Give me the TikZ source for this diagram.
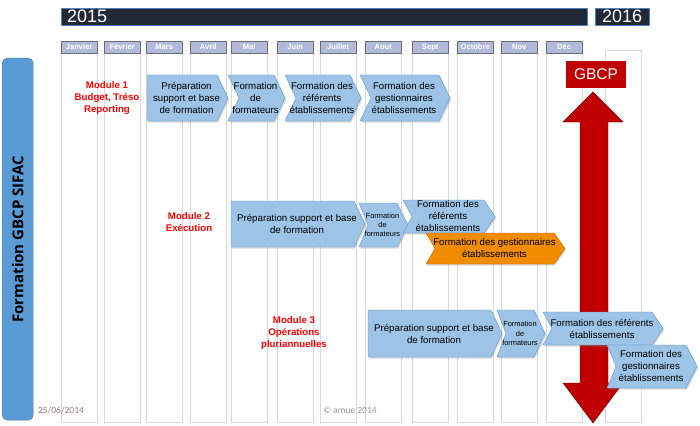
\documentclass[tikz,border=0pt]{standalone}
\usepackage{fontspec}
\setmainfont{Liberation Sans}
\newfontfamily\titlefont{Open Sans}
\newfontfamily\notefont{Carlito}
\usetikzlibrary{shadows}
\definecolor{yearbg}{RGB}{33,41,54}
\definecolor{yearline}{RGB}{79,129,189}
\definecolor{monthbg}{RGB}{178,186,218}
\definecolor{monthline}{RGB}{110,110,120}
\definecolor{colline}{RGB}{217,217,217}
\definecolor{stagebg}{RGB}{157,195,230}
\definecolor{stageline}{RGB}{91,155,213}
\definecolor{orangebg}{RGB}{239,140,0}
\definecolor{orangeline}{RGB}{200,110,0}
\definecolor{titlebg}{RGB}{91,155,213}
\definecolor{titleline}{RGB}{65,120,180}
\definecolor{gbcpred}{RGB}{192,0,0}
\definecolor{datecol}{RGB}{140,125,125}
\definecolor{copycol}{RGB}{150,150,150}
\tikzset{yearbar/.style={rectangle,fill=yearbg,draw=yearline,thin,text=white,
minimum height=17pt,inner ysep=0pt,font=\fontsize{18}{18}\selectfont},
monthlbl/.style={rectangle,fill=monthbg,draw=monthline,thin,text=white,
minimum width=36pt,minimum height=12pt,inner sep=0pt,font=\fontsize{7.6}{8}\selectfont\bfseries},
colbox/.style={rectangle,draw=colline,thin,fill=white,minimum width=36pt,inner sep=0pt},
stage/.style={fill=stagebg,draw=stageline,thin,
drop shadow={opacity=0.3,shadow xshift=1.2pt,shadow yshift=-1.5pt}},
stagealt/.style={stage,fill=orangebg,draw=orangeline},
bigtext/.style={font=\fontsize{9.7}{12}\selectfont},
smalltext/.style={font=\fontsize{7.4}{9.3}\selectfont},
modlabel/.style={text=red,align=center,inner sep=0pt,font=\fontsize{9.7}{12}\selectfont\bfseries},
gbcparrow/.style={fill=gbcpred,draw=red!35!black,thin},
gbcpbox/.style={rectangle,fill=gbcpred,text=white,minimum width=60pt,minimum height=27pt,
inner sep=0pt,font=\fontsize{15.5}{16}\selectfont}}
% month column with its label: name, left x, label
\newcommand{\mcol}[3]{
\node (#1col) [colbox,anchor=north west,minimum height=369pt] at (#2,53) {};
\node (#1) [monthlbl,anchor=north west] at (#2,41) {#3};
}
% stage: name, x1, x2, ytop, ybot, notch, shape style, text style, text
\newcommand{\stagebox}[9]{
\path [#7] (#2,#4) -- ({#3-11},#4) -- (#3,{(#4+#5)/2}) -- ({#3-11},#5) -- (#2,#5)
  -- ({#2+#6},{(#4+#5)/2}) -- cycle;
\node (#1) [#8,align=center,inner sep=0pt] at ({(#2+#3)/2-1},{(#4+#5)/2}) {#9};
}
\begin{document}
\begin{tikzpicture}[x=1pt,y=-1pt]
  \useasboundingbox [fill=white] (0,0) rectangle (700,425);

  \node (y2015) [yearbar,anchor=north west,text width=514pt,inner xsep=6pt,align=left] at (61,8) {2015};
  \node (y2016) [yearbar,anchor=north west,minimum width=54pt,inner xsep=0pt] at (595,8) {2016};

  \mcol{jan}{61}{Janvier}
  \mcol{fev}{104}{Février}
  \mcol{mar}{146}{Mars}
  \mcol{avr}{190}{Avril}
  \mcol{mai}{231}{Mai}
  \mcol{jun}{277}{Juin}
  \mcol{jul}{320}{Juillet}
  \mcol{aou}{365}{Aout}
  \mcol{sep}{412}{Sept}
  \mcol{oct}{457}{Octobre}
  \mcol{nov}{501}{Nov}
  \mcol{dec}{546}{Déc}
  \node (jan16col) [colbox,anchor=north west,minimum height=372pt] at (605,50) {};

  \node (title) [rectangle,rounded corners=5pt,fill=titlebg,draw=titleline,
    minimum width=31pt,minimum height=362pt,anchor=north west] at (2,58) {};
  \node (titletext) [rotate=90,font=\titlefont\fontsize{15}{15}\selectfont\bfseries] at (title.center) {Formation GBCP SIFAC};

  \node (date) [text=datecol,font=\notefont\fontsize{9.5}{10}\selectfont] at (61,410) {25/06/2014};
  \node (copy) [text=copycol,font=\notefont\fontsize{9.5}{10}\selectfont] at (350,410) {© amue 2014};

  % module 1
  \node (mod1) [modlabel] at (107,98) {Module 1\\Budget, Tréso\\Reporting};
  \stagebox{m1prep}{147}{228}{75}{121}{0}{stage}{bigtext}{Préparation\\support et base\\de formation}
  \stagebox{m1form}{228}{285}{75}{121}{11}{stage}{bigtext}{Formation\\de\\formateurs}
  \stagebox{m1ref}{285}{361}{75}{121}{11}{stage}{bigtext}{Formation des\\référents\\établissements}
  \stagebox{m1gest}{360}{450}{75}{121}{11}{stage}{bigtext}{Formation des\\gestionnaires\\établissements}

  % module 2
  \node (mod2) [modlabel] at (189,222) {Module 2\\Exécution};
  \stagebox{m2prep}{231}{365}{201}{247}{0}{stage}{bigtext}{Préparation support et base\\de formation}
  \stagebox{m2form}{359}{408}{203}{247}{9}{stage}{smalltext}{Formation\\de\\formateurs}
  \stagebox{m2ref}{403}{495}{200}{233}{9}{stage}{bigtext}{Formation des\\référents\\établissements}
  \stagebox{m2gest}{426}{565}{233}{264}{9}{stagealt}{bigtext}{Formation des gestionnaires\\établissements}

  % GBCP
  \node (gbcp) [gbcpbox] at (596,74.5) {GBCP};
  \path [gbcparrow] (593,92) -- (623,122) -- (608,122) -- (608,383) -- (623,383) -- (593,423)
    -- (563,383) -- (580,383) -- (580,122) -- (563,122) -- cycle;

  % module 3
  \node (mod3) [modlabel] at (294,333) {Module 3\\Opérations\\pluriannuelles};
  \stagebox{m3prep}{368}{502}{310}{357}{0}{stage}{bigtext}{Préparation support et base\\de formation}
  \stagebox{m3form}{497}{545}{310}{357}{9}{stage}{smalltext}{Formation\\de\\formateurs}
  \stagebox{m3ref}{543}{663}{312}{345}{9}{stage}{bigtext}{Formation des référents\\établissements}
  \stagebox{m3gest}{607}{697}{345}{388}{9}{stage}{bigtext}{Formation des\\gestionnaires\\établissements}
\end{tikzpicture}
\end{document}
